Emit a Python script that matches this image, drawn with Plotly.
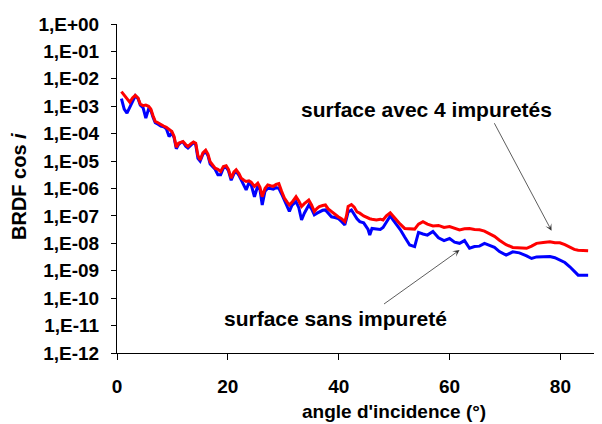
import plotly.graph_objects as go

angle = [0.8, 1.3, 1.8, 2.3, 2.8, 3.3, 3.8, 4.2, 4.7, 5.2,
         5.7, 6.1, 6.5, 6.9, 7.4, 7.9, 8.4, 8.9, 9.4, 9.9,
         10.3, 10.7, 11.1, 11.5, 11.9, 12.4, 12.8, 13.3, 13.8, 14.2,
         14.6, 15.0, 15.5, 16.0, 16.4, 16.8, 17.3, 17.7, 18.2, 18.7,
         19.2, 19.7, 20.1, 20.6, 21.1, 21.5, 22.0, 22.4, 22.9, 23.3,
         23.8, 24.2, 24.8, 25.4, 25.8, 26.2, 26.7, 27.2, 27.7, 28.2,
         28.7, 29.2, 29.7, 30.2, 30.7, 31.1, 31.6, 32.3, 32.8, 33.3,
         33.8, 34.6, 35.1, 35.6, 36.1, 36.5, 37.1, 37.6, 38.1, 38.7,
         39.3, 39.9, 40.5, 41.1, 41.4, 41.7, 42.3, 42.8, 43.3, 43.8,
         44.5, 45.3, 45.6, 46.0, 46.8, 47.5, 48.0, 48.6, 49.3, 49.8, 50.4,
         51.1, 51.9, 52.8, 53.7, 54.4, 55.2, 56.0, 57.0, 58.0, 59.0,
         60.0, 60.9, 61.8, 62.7, 63.6, 64.5, 65.4, 66.3, 67.2, 68.1,
         69.0, 70.2, 71.4, 72.6, 73.9, 74.8, 75.7, 76.9, 78.1, 79.0,
         79.9, 80.8, 81.7, 82.5, 83.2, 84.1, 85.0]

brdf_impuretes = [3.4e-3, 2.5e-3, 1.8e-3, 1.4e-3, 2.0e-3, 2.5e-3, 2.0e-3, 1.2e-3, 1.05e-3, 1.1e-3,
                  1.0e-3, 7.9e-4, 4.5e-4, 2.8e-4, 2.5e-4, 2.1e-4, 1.9e-4, 1.7e-4, 1.4e-4, 1.2e-4,
                  7.9e-5, 3.2e-5, 4.5e-5, 5.0e-5, 5.2e-5, 4.0e-5, 3.4e-5, 4.2e-5, 5.0e-5, 4.5e-5,
                  1.6e-5, 1.1e-5, 2.0e-5, 2.5e-5, 1.8e-5, 9.5e-6, 7.1e-6, 5.5e-6, 5.0e-6, 4.2e-6,
                  6.3e-6, 6.8e-6, 5.0e-6, 2.4e-6, 4.0e-6, 4.8e-6, 3.5e-6, 2.4e-6, 2.0e-6, 1.8e-6,
                  1.9e-6, 1.7e-6, 1.2e-6, 1.55e-6, 1.1e-6, 5.0e-7, 1.0e-6, 1.35e-6, 1.26e-6, 1.2e-6,
                  1.4e-6, 1.5e-6, 7.9e-7, 4.5e-7, 3.2e-7, 2.5e-7, 3.2e-7, 5.0e-7, 3.5e-7, 2.2e-7,
                  2.8e-7, 3.8e-7, 2.5e-7, 1.45e-7, 1.9e-7, 2.2e-7, 2.4e-7, 2.5e-7, 1.8e-7, 1.45e-7,
                  1.1e-7, 9.3e-8, 7.9e-8, 6.2e-8, 1.0e-7, 2.2e-7, 2.6e-7, 2.1e-7, 1.4e-7, 1.26e-7,
                  1.0e-7, 8.1e-8, 7.9e-8, 7.6e-8, 7.1e-8, 7.6e-8, 7.1e-8, 1.0e-7, 1.3e-7, 1.0e-7, 7.1e-8,
                  5.0e-8, 3.5e-8, 3.4e-8, 3.3e-8, 5.0e-8, 6.2e-8, 5.0e-8, 4.3e-8, 4.5e-8, 3.8e-8,
                  4.1e-8, 3.5e-8, 3.1e-8, 3.4e-8, 3.5e-8, 3.2e-8, 3.1e-8, 2.8e-8, 2.3e-8, 1.8e-8,
                  1.3e-8, 8.9e-9, 7.1e-9, 6.8e-9, 6.6e-9, 7.9e-9, 1.0e-8, 1.07e-8, 1.15e-8, 1.05e-8,
                  1.05e-8, 8.9e-9, 7.1e-9, 6.0e-9, 5.6e-9, 5.4e-9, 5.4e-9]

brdf_sans = [1.9e-3, 7.9e-4, 5.6e-4, 8.7e-4, 1.4e-3, 2.4e-3, 1.9e-3, 1.1e-3, 8.9e-4, 3.7e-4,
             7.9e-4, 7.1e-4, 4.0e-4, 2.5e-4, 2.2e-4, 1.9e-4, 1.8e-4, 1.5e-4, 7.9e-5, 1.07e-4,
             7.1e-5, 2.8e-5, 4.0e-5, 4.7e-5, 5.0e-5, 3.5e-5, 3.0e-5, 3.8e-5, 4.7e-5, 4.0e-5,
             1.26e-5, 1.0e-5, 1.8e-5, 2.2e-5, 1.6e-5, 7.9e-6, 6.3e-6, 5.0e-6, 3.2e-6, 3.2e-6,
             5.6e-6, 6.0e-6, 4.5e-6, 2.0e-6, 3.5e-6, 4.2e-6, 3.0e-6, 2.0e-6, 1.4e-6, 8.9e-7,
             1.6e-6, 1.4e-6, 5.0e-7, 1.26e-6, 8.9e-7, 2.5e-7, 7.9e-7, 1.02e-6, 1.0e-6, 9.5e-7,
             1.07e-6, 1.02e-6, 6.3e-7, 3.8e-7, 2.5e-7, 1.45e-7, 2.5e-7, 3.3e-7, 2.0e-7, 7.1e-8,
             1.26e-7, 2.5e-7, 1.8e-7, 1.1e-7, 1.26e-7, 1.4e-7, 1.6e-7, 1.65e-7, 1.26e-7, 9.3e-8,
             8.7e-8, 8.1e-8, 6.3e-8, 4.7e-8, 7.9e-8, 1.4e-7, 1.65e-7, 1.1e-7, 7.9e-8, 6.2e-8,
             5.6e-8, 3.2e-8, 2.0e-8, 3.5e-8, 3.3e-8, 3.2e-8, 3.8e-8, 6.3e-8, 1.0e-7, 7.1e-8, 5.0e-8,
             3.2e-8, 1.7e-8, 8.7e-9, 7.6e-9, 2.5e-8, 2.2e-8, 2.0e-8, 2.7e-8, 1.6e-8, 1.26e-8,
             1.5e-8, 1.1e-8, 1.0e-8, 1.26e-8, 6.6e-9, 7.6e-9, 7.9e-9, 1.0e-8, 8.3e-9, 7.1e-9,
             5.0e-9, 3.7e-9, 4.9e-9, 4.5e-9, 3.5e-9, 2.8e-9, 3.2e-9, 3.2e-9, 3.3e-9, 3.0e-9,
             2.5e-9, 2.0e-9, 1.4e-9, 1.0e-9, 6.9e-10, 6.9e-10, 6.9e-10]

y_tickvals = [1e0, 1e-1, 1e-2, 1e-3, 1e-4, 1e-5, 1e-6, 1e-7, 1e-8, 1e-9, 1e-10, 1e-11, 1e-12]
y_ticktext = ["1,E+00", "1,E-01", "1,E-02", "1,E-03", "1,E-04", "1,E-05", "1,E-06",
              "1,E-07", "1,E-08", "1,E-09", "1,E-10", "1,E-11", "1,E-12"]
x_tickvals = [0, 20, 40, 60, 80]

FONT = "Liberation Sans, Arial, sans-serif"

# page body has an 8px margin: plot area spans x 117..597, y 24..353 in the window
PW, PH = 480, 329

fig = go.Figure()
fig.add_trace(go.Scatter(x=angle, y=brdf_sans, mode="lines",
                         line=dict(color="#0000FF", width=3), name="surface sans impureté"))
fig.add_trace(go.Scatter(x=angle, y=brdf_impuretes, mode="lines",
                         line=dict(color="#FF0000", width=3), name="surface avec 4 impuretés"))

fig.update_layout(
    width=594, height=416,
    margin=dict(l=109, r=5, t=16, b=71),
    paper_bgcolor="white", plot_bgcolor="white",
    showlegend=False,
    font=dict(family=FONT, color="black", size=19, weight="bold"),
)
fig.update_xaxes(range=[0, 86.6], tickvals=x_tickvals, ticks="outside", ticklen=6,
                 tickcolor="black", showline=True, linecolor="black", linewidth=1,
                 showgrid=False, zeroline=False, automargin=False,
                 tickfont=dict(family=FONT, size=19, weight="bold"), ticklabelstandoff=10)
fig.update_yaxes(type="log", range=[-12, 0], tickvals=y_tickvals, ticktext=y_ticktext,
                 ticks="outside", ticklen=5, tickcolor="black", showline=True,
                 linecolor="black", linewidth=1, showgrid=False, zeroline=False, automargin=False,
                 tickfont=dict(family=FONT, size=19, weight="bold"), ticklabelstandoff=8)


def px_x(p):
    return (p - 117) / PW


def px_y(p):
    return (353 - p) / PH


# axis titles
fig.add_annotation(text="angle d'incidence (°)", xref="paper", yref="paper",
                   x=px_x(393.5), y=px_y(411.5), xanchor="center", yanchor="middle",
                   showarrow=False, font=dict(family=FONT, size=19, weight="bold"))
fig.add_annotation(text="BRDF cos <i>i</i>", xref="paper", yref="paper",
                   x=px_x(19), y=px_y(187), xanchor="center", yanchor="middle", textangle=-90,
                   showarrow=False, font=dict(family=FONT, size=20, weight="bold"))

# labels
fig.add_annotation(text="surface avec 4 impuretés", xref="paper", yref="paper",
                   x=px_x(426.5), y=px_y(109), xanchor="center", yanchor="middle",
                   showarrow=False, font=dict(family=FONT, size=21, weight="bold"))
fig.add_annotation(text="surface sans impureté", xref="paper", yref="paper",
                   x=px_x(335), y=px_y(318), xanchor="center", yanchor="middle",
                   showarrow=False, font=dict(family=FONT, size=21, weight="bold"))

# arrows
fig.add_annotation(x=78.4, y=-7.54, xref="x", yref="y", text="", showarrow=True,
                   ax=-58, ay=-109, axref="pixel", ayref="pixel",
                   arrowhead=3, arrowsize=1.4, arrowwidth=0.8, arrowcolor="#333333")
fig.add_annotation(x=61.8, y=-8.245, xref="x", yref="y", text="", showarrow=True,
                   ax=-77, ay=55, axref="pixel", ayref="pixel",
                   arrowhead=3, arrowsize=1.4, arrowwidth=0.8, arrowcolor="#333333")

fig.write_html("out.html")
